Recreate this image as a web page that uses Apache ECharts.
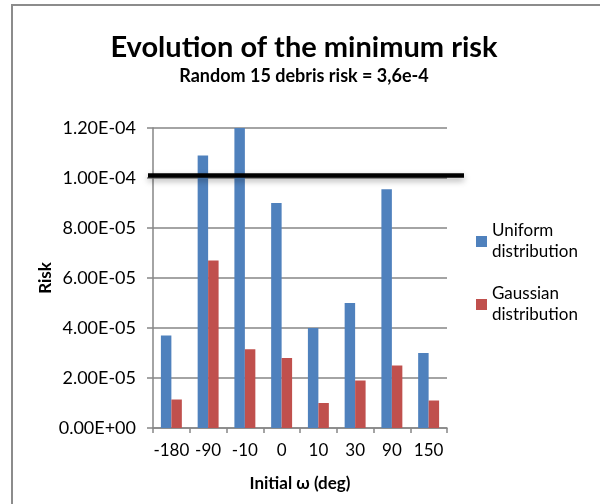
<!DOCTYPE html>
<html>
<head>
<meta charset="utf-8">
<script src="https://cdn.jsdelivr.net/npm/echarts@6/dist/echarts.min.js"></script>
<style>
  html, body { margin: 0; padding: 0; background: #fff; }
  #chart { width: 600px; height: 504px; }
</style>
</head>
<body>
<div id="chart"></div>
<script>
// Initial argument of perigee values (deg)
const categories = ['-180', '-90', '-10', '0', '10', '30', '90', '150'];
// Minimum risk per initial omega
const uniformRisk = [3.7e-5, 1.09e-4, 1.2e-4, 9.0e-5, 4.0e-5, 5.0e-5, 9.55e-5, 3.0e-5];
const gaussianRisk = [1.14e-5, 6.7e-5, 3.15e-5, 2.8e-5, 1.0e-5, 1.9e-5, 2.5e-5, 1.1e-5];
const seriesNames = ['Uniform distribution', 'Gaussian distribution'];
// Reference risk level drawn as a thick horizontal bar
const thresholdRisk = 1.01e-4;
// Value axis ticks
const yMin = 0, yMax = 1.2e-4, yStep = 2e-5;

const FONT = 'Lato, "Open Sans", sans-serif';
const GRID_COLOR = '#868686';

function sciLabel(v) {
  const s = Number(v).toExponential(2); // e.g. 1.20e-4
  const parts = s.split('e');
  const sign = parts[1][0] === '-' ? '-' : '+';
  const exp = parts[1].replace(/[+-]/, '').padStart(2, '0');
  return parts[0] + 'E' + sign + exp;
}

const chart = echarts.init(document.getElementById('chart'));

chart.setOption({
  animation: false,
  backgroundColor: '#fff',
  textStyle: { fontFamily: FONT },
  title: {
    text: 'Evolution of the minimum risk',
    subtext: 'Random 15 debris risk = 3,6e-4',
    left: 299,
    textAlign: 'center',
    top: 28,
    itemGap: 5,
    textStyle: { fontFamily: FONT, fontSize: 29, fontWeight: 'bold', color: '#000' },
    subtextStyle: { fontFamily: FONT, fontSize: 18, fontWeight: 'bold', color: '#000' }
  },
  legend: {
    orient: 'vertical',
    left: 476,
    top: 210,
    padding: 0,
    itemWidth: 11,
    itemHeight: 11,
    itemGap: 0,
    icon: 'rect',
    formatter: name => name.replace(' ', '\n'),
    textStyle: { fontFamily: FONT, fontSize: 17, color: '#000', lineHeight: 21, padding: [21, 0, 0, 0] },
    data: seriesNames
  },
  grid: { left: 153, top: 128, width: 294, height: 300, containLabel: false },
  xAxis: {
    type: 'category',
    data: categories,
    name: 'Initial ω (deg)',
    nameLocation: 'middle',
    nameGap: 47,
    nameTextStyle: { fontFamily: FONT, fontSize: 17, fontWeight: 'bold', color: '#000' },
    axisLine: { lineStyle: { color: GRID_COLOR, width: 1.5 } },
    axisTick: { show: true, interval: 0, length: 5, inside: false, lineStyle: { color: GRID_COLOR, width: 1.5 } },
    axisLabel: { fontFamily: FONT, fontSize: 17, color: '#000', margin: 14, interval: 0 }
  },
  yAxis: {
    type: 'value',
    min: yMin,
    max: yMax,
    interval: yStep,
    name: 'Risk',
    nameLocation: 'middle',
    nameGap: 99,
    nameRotate: 90,
    nameTextStyle: { fontFamily: FONT, fontSize: 17, fontWeight: 'bold', color: '#000' },
    axisLine: { show: true, lineStyle: { color: GRID_COLOR, width: 1.5 } },
    axisTick: { show: true, length: 6, lineStyle: { color: GRID_COLOR, width: 1.5 } },
    axisLabel: { fontFamily: FONT, fontSize: 18, color: '#000', margin: 17, formatter: sciLabel },
    splitLine: { show: true, lineStyle: { color: GRID_COLOR, width: 1.5 } }
  },
  series: [
    {
      name: seriesNames[0],
      type: 'bar',
      data: uniformRisk,
      barGap: '0%',
      barCategoryGap: '43%',
      itemStyle: { color: '#4F81BD' }
    },
    {
      name: seriesNames[1],
      type: 'bar',
      data: gaussianRisk,
      barGap: '0%',
      barCategoryGap: '43%',
      itemStyle: { color: '#C0504D' }
    }
  ]
});

// Threshold bar and outer frame; the bar's height comes from the value axis
const yLine = chart.convertToPixel({ yAxisIndex: 0 }, thresholdRisk);
chart.setOption({
  graphic: [
    {
      type: 'rect',
      shape: { x: 12, y: 5, width: 700, height: 600 },
      style: { fill: 'none', stroke: '#8c8c8c', lineWidth: 2 },
      silent: true
    },
    {
      type: 'line',
      shape: { x1: 148, y1: yLine, x2: 464, y2: yLine },
      style: {
        stroke: '#000', lineWidth: 4.5,
        shadowColor: 'rgba(0,0,0,0.35)', shadowBlur: 6, shadowOffsetY: 3
      },
      z: 100
    }
  ]
});
</script>
</body>
</html>
